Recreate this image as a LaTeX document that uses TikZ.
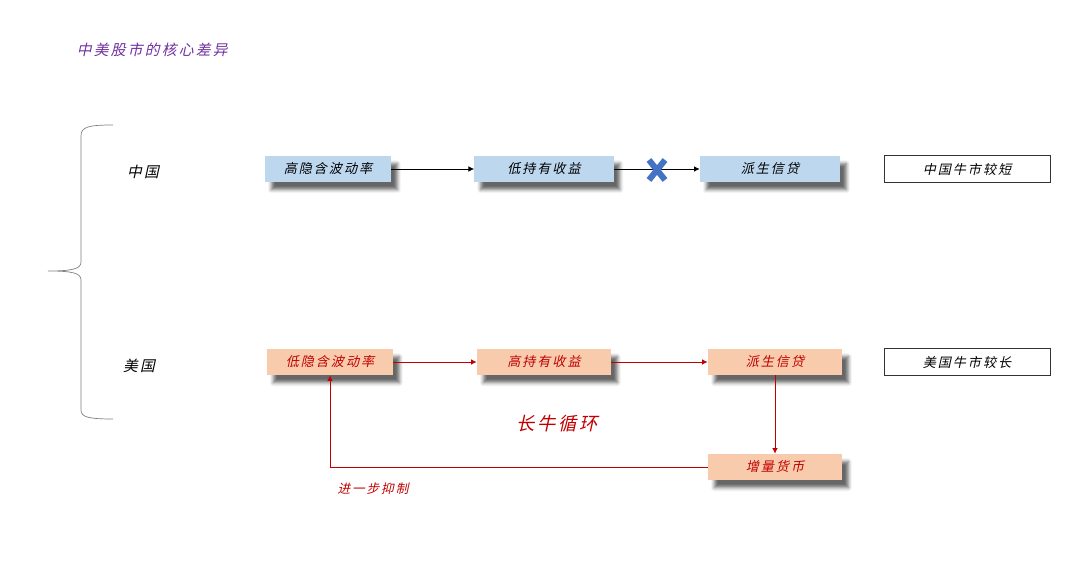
\documentclass[tikz,border=0pt]{standalone}
\usepackage{fontspec}
\usetikzlibrary{arrows.meta,shadows.blur}
\setmainfont{Noto Sans CJK SC}[FakeSlant=0.22, LetterSpace=15]
\definecolor{boxblue}{HTML}{BDD7EE}
\definecolor{boxorange}{HTML}{F8CBAD}
\definecolor{darkred}{HTML}{C00000}
\definecolor{crossblue}{HTML}{4472C4}
\definecolor{titlepurple}{HTML}{7030A0}
\tikzset{
	stage/.style = {minimum height = 0.65cm, inner sep = 0pt, font = \fontsize{9.3}{10}\selectfont,
		blur shadow = {shadow xshift = 4.5pt, shadow yshift = -5.5pt, shadow blur radius = 2.5pt, shadow opacity = 60}},
	cnstage/.style = {stage, fill = boxblue},
	usstage/.style = {stage, fill = boxorange, text = darkred},
	verdict/.style = {draw = black!80, line width = 0.6pt, minimum width = 4.15cm, minimum height = 0.67cm,
		inner sep = 0pt, font = \fontsize{9.3}{10}\selectfont},
	cnarrow/.style = {-{Latex[length = 4pt, width = 4pt]}, line width = 0.6pt},
	usarrow/.style = {-{Latex[length = 4pt, width = 4pt]}, line width = 0.7pt, draw = darkred},
	crossmark/.style = {crossblue, line width = 4.3pt}
}
\begin{document}
\begin{tikzpicture}[x = 0.025cm, y = -0.025cm]
		\useasboundingbox (0, 0) rectangle (1080, 569);
	
		\node[anchor = west, text = titlepurple, font = \fontsize{10.5}{12}\selectfont] (title) at (72, 50) {中美股市的核心差异};
	
		\draw[gray, line width = 0.5pt] (113, 125) .. controls (88, 125) and (81, 127) .. (81, 136) -- (81, 262)
			.. controls (81, 269) and (72, 271) .. (48, 271) .. controls (72, 271) and (81, 273) .. (81, 280)
			-- (81, 410) .. controls (81, 417) and (88, 419) .. (113, 419);
		\node[font = \fontsize{10.5}{12}\selectfont] (china) at (143, 172) {中国};
		\node[font = \fontsize{10.5}{12}\selectfont] (usa) at (139, 366) {美国};
	
		\node[cnstage, minimum width = 3.15cm] (cnHigh) at (328, 169) {高隐含波动率};
		\node[cnstage, minimum width = 3.48cm] (cnLow) at (544, 169) {低持有收益};
		\node[cnstage, minimum width = 3.5cm] (cnCredit) at (770, 169) {派生信贷};
		\node[verdict] (cnResult) at (967, 169) {中国牛市较短};
	
		\draw[cnarrow] (cnHigh) -- (cnLow);
		\draw[cnarrow] (cnLow) -- (cnCredit);
		\coordinate (cross) at (657, 170);
		\draw[crossmark] (cross) ++(-8, -10) -- ++(16, 20) (cross) ++(-8, 10) -- ++(16, -20);
	
		\node[usstage, minimum width = 3.15cm] (usLow) at (330, 362) {低隐含波动率};
		\node[usstage, minimum width = 3.35cm] (usHigh) at (544, 362) {高持有收益};
		\node[usstage, minimum width = 3.35cm] (usCredit) at (775, 362) {派生信贷};
		\node[verdict] (usResult) at (967, 362) {美国牛市较长};
		\node[usstage, minimum width = 3.35cm] (usMoney) at (775, 467) {增量货币};
	
		\draw[usarrow] (usLow) -- (usHigh);
		\draw[usarrow] (usHigh) -- (usCredit);
		\draw[usarrow] (usCredit) -- (usMoney);
		\draw[usarrow] (usMoney.west) -| (usLow.south);
	
		\node[text = darkred, font = \fontsize{13}{14}\selectfont] (cycle) at (557, 424) {长牛循环};
		\node[text = darkred, font = \fontsize{9}{10}\selectfont] (suppress) at (373, 489) {进一步抑制};
	\end{tikzpicture}
\end{document}
